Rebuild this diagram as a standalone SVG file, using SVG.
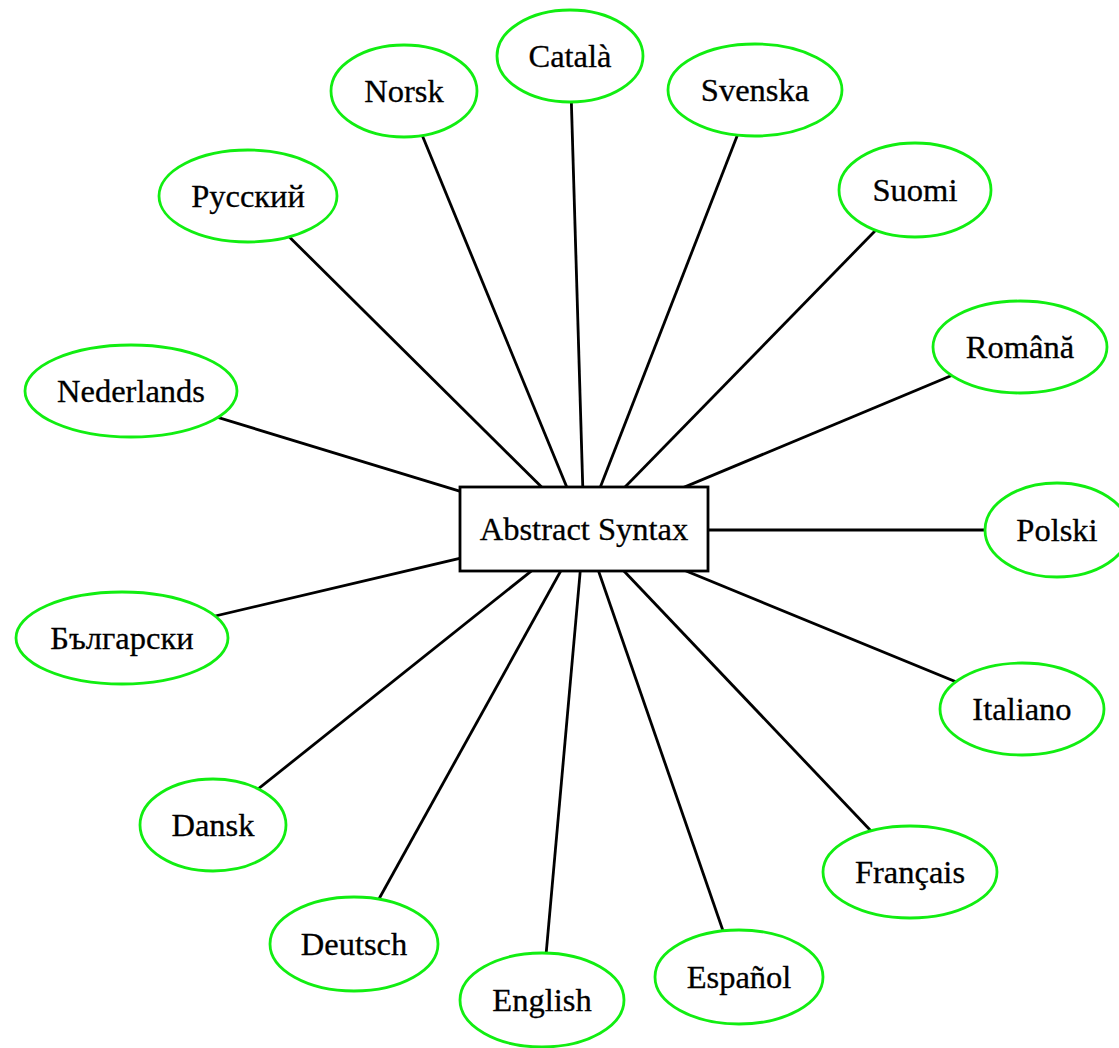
<svg xmlns="http://www.w3.org/2000/svg" width="1119" height="1048" viewBox="0 0 1119 1048">
<style>
.e{fill:#fff;stroke:#11ee11;stroke-width:2.8}
.r{fill:#fff;stroke:#000;stroke-width:2.8}
.c line{stroke:#000;stroke-width:2.8}
text{font-family:"Liberation Serif","Times New Roman",serif;font-size:32.5px;fill:#000;text-anchor:middle;stroke:#000;stroke-width:0.3}
</style>
<rect width="1119" height="1048" fill="#fff"/>
<g id="connectors" class="c">
<line x1="584" y1="529" x2="570" y2="56"/>
<line x1="584" y1="529" x2="404" y2="91"/>
<line x1="584" y1="529" x2="755" y2="90"/>
<line x1="584" y1="529" x2="248" y2="196"/>
<line x1="584" y1="529" x2="915" y2="190"/>
<line x1="584" y1="529" x2="131" y2="391"/>
<line x1="584" y1="529" x2="1020" y2="347"/>
<line x1="584" y1="530" x2="1057" y2="530"/>
<line x1="584" y1="529" x2="122" y2="638"/>
<line x1="584" y1="529" x2="1022" y2="709"/>
<line x1="584" y1="529" x2="213" y2="825"/>
<line x1="584" y1="529" x2="910" y2="872"/>
<line x1="584" y1="529" x2="354" y2="944"/>
<line x1="584" y1="529" x2="542" y2="1000"/>
<line x1="584" y1="529" x2="739" y2="977"/>
</g>
<g id="abstract"><rect class="r" x="460" y="487" width="248" height="84"/><text x="584" y="540">Abstract Syntax</text></g>
<g id="catala"><ellipse class="e" cx="570" cy="56" rx="73" ry="46"/><text x="570" y="67">Català</text></g>
<g id="norsk"><ellipse class="e" cx="404" cy="91" rx="73" ry="46"/><text x="404" y="102">Norsk</text></g>
<g id="svenska"><ellipse class="e" cx="755" cy="90" rx="87" ry="46"/><text x="755" y="101">Svenska</text></g>
<g id="russkiy"><ellipse class="e" cx="248" cy="196" rx="89" ry="46"/><text x="248" y="207">Русский</text></g>
<g id="suomi"><ellipse class="e" cx="915" cy="190" rx="76" ry="47"/><text x="915" y="201">Suomi</text></g>
<g id="nederlands"><ellipse class="e" cx="131" cy="391" rx="106" ry="46"/><text x="131" y="402">Nederlands</text></g>
<g id="romana"><ellipse class="e" cx="1020" cy="347" rx="87" ry="46"/><text x="1020" y="358">Română</text></g>
<g id="polski"><ellipse class="e" cx="1057" cy="530" rx="72" ry="47"/><text x="1057" y="541">Polski</text></g>
<g id="balgarski"><ellipse class="e" cx="122" cy="638" rx="106" ry="46"/><text x="122" y="649">Български</text></g>
<g id="italiano"><ellipse class="e" cx="1022" cy="709" rx="82" ry="46"/><text x="1022" y="720">Italiano</text></g>
<g id="dansk"><ellipse class="e" cx="213" cy="825" rx="73" ry="46"/><text x="213" y="836">Dansk</text></g>
<g id="francais"><ellipse class="e" cx="910" cy="872" rx="87" ry="46"/><text x="910" y="883">Français</text></g>
<g id="deutsch"><ellipse class="e" cx="354" cy="944" rx="84" ry="47"/><text x="354" y="955">Deutsch</text></g>
<g id="english"><ellipse class="e" cx="542" cy="1000" rx="82" ry="47"/><text x="542" y="1011">English</text></g>
<g id="espanol"><ellipse class="e" cx="739" cy="977" rx="84" ry="47"/><text x="739" y="988">Español</text></g>
</svg>
